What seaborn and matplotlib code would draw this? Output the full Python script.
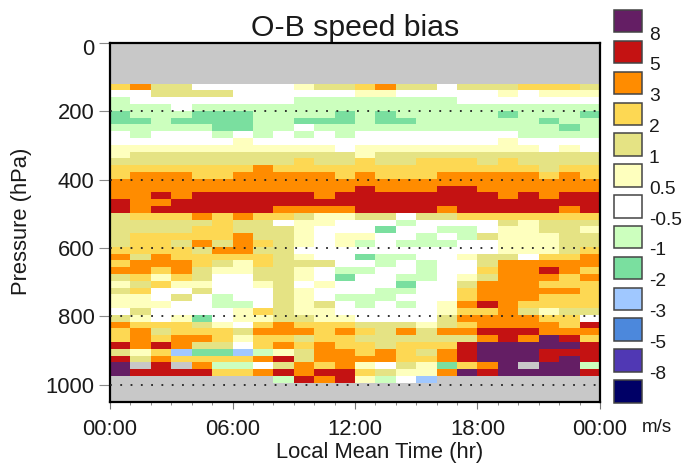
import numpy as np
import matplotlib
matplotlib.use("Agg")
import matplotlib.pyplot as plt
from matplotlib.colors import ListedColormap, BoundaryNorm
from matplotlib.patches import Rectangle
from matplotlib.transforms import ScaledTranslation
import seaborn as sns

sns.set_theme(style="white")
plt.rcParams["font.family"] = ["Liberation Sans", "DejaVu Sans"]
plt.rcParams["text.color"] = "#1a1a1a"
plt.rcParams["axes.labelcolor"] = "#1a1a1a"
plt.rcParams["xtick.labelcolor"] = "#1a1a1a"
plt.rcParams["ytick.labelcolor"] = "#1a1a1a"

na = np.nan

# legend levels, bottom to top
niveis = [-8, -5, -3, -2, -1, -0.5, 0.5, 1, 2, 3, 5, 8]
cores = ["#000066", "#5038B4", "#4C88DC", "#A0C8FF", "#7ADF9F", "#CCFFBE", "#FFFFFF",
         "#FEFFBE", "#E5E384", "#FDD853", "#FF8C00", "#C41212", "#641E64"]

# O-B bias (m/s), one row per pressure layer from 120 hPa down, 24 hourly columns
vies = [
    [2.5, 4, 1.5, 1.5, 0, 0, 0, 0, 0, 0.75, 1.5, 1.5, 2.5, 4, 1.5, 1.5, 0, 1.5, 1.5, 1.5, 2.5, 2.5, 2.5, 1.5],
    [0, 0, 1.5, 1.5, 1.5, 1.5, 0, 0, 0, 0, 0, 0, 0.75, 0.75, 0, 0, 0, 0, 0, 0.75, 0, 0.75, 0.75, 0.75],
    [-.75, 0, 0, 0, 0, 0, 0, 0, 0, -.75, -.75, -.75, -.75, -.75, -.75, -.75, -.75, 0, 0, 0, 0, 0, 0, 0],
    [-.75, -.75, -.75, 0, -.75, -.75, -.75, -.75, -.75, -.75, -.75, -.75, -.75, -.75, -.75, -.75, -.75, -.75, -.75, -.75, -.75, -.75, -.75, -.75],
    [-1.5, -.75, -.75, -.75, -1.5, -1.5, -1.5, -.75, -.75, -.75, -.75, -1.5, -.75, -1.5, -.75, -.75, -.75, -.75, -.75, -1.5, -.75, -.75, -.75, -1.5],
    [-1.5, -1.5, -.75, -1.5, -1.5, -1.5, -1.5, -.75, -.75, -1.5, -1.5, -1.5, -.75, -1.5, -1.5, -.75, -.75, -.75, -.75, -.75, -.75, -1.5, -.75, -.75],
    [-.75, -.75, -.75, -.75, -.75, -1.5, -1.5, -.75, -.75, 0, -.75, -.75, -.75, -.75, -.75, -.75, -.75, -.75, -.75, -.75, -.75, -.75, -1.5, -.75],
    [0, -.75, 0, 0, 0, -.75, 0, -.75, 0, -.75, 0, -.75, 0, 0, 0, 0, 0, 0, 0, 0, -.75, -.75, -.75, -.75],
    [0, 0, 0, 0, 0, 0, 0.75, 0, 0, 0, 0, 0, 0, 0, 0, 0, 0, 0, 0, 0.75, 0, 0, 0, 0],
    [0.75, 0.75, 0.75, 0.75, 0.75, 0.75, 0.75, 0.75, 0.75, 0.75, 0.75, 0, 0.75, 0.75, 0.75, 0.75, 0.75, 0.75, 0.75, 0.75, 0.75, 0, 0.75, 0],
    [0.75, 1.5, 1.5, 1.5, 1.5, 1.5, 1.5, 1.5, 1.5, 1.5, 1.5, 1.5, 0.75, 1.5, 1.5, 1.5, 1.5, 1.5, 1.5, 1.5, 1.5, 1.5, 1.5, 1.5],
    [1.5, 1.5, 1.5, 1.5, 1.5, 1.5, 1.5, 1.5, 1.5, 2.5, 1.5, 1.5, 2.5, 1.5, 1.5, 2.5, 2.5, 2.5, 1.5, 2.5, 1.5, 1.5, 1.5, 1.5],
    [2.5, 2.5, 2.5, 2.5, 2.5, 2.5, 2.5, 4, 2.5, 2.5, 2.5, 2.5, 2.5, 2.5, 2.5, 2.5, 2.5, 2.5, 2.5, 2.5, 2.5, 1.5, 2.5, 2.5],
    [2.5, 4, 4, 4, 2.5, 2.5, 4, 4, 4, 4, 4, 2.5, 4, 2.5, 2.5, 2.5, 4, 4, 4, 4, 4, 2.5, 4, 2.5],
    [4, 4, 4, 4, 4, 4, 4, 4, 4, 4, 4, 4, 4, 4, 4, 4, 4, 4, 4, 4, 4, 4, 4, 4],
    [4, 4, 4, 4, 4, 4, 4, 4, 4, 4, 4, 4, 6, 4, 4, 4, 6, 6, 4, 4, 4, 4, 4, 4],
    [4, 4, 6, 4, 6, 6, 6, 6, 6, 6, 4, 6, 6, 6, 6, 6, 6, 6, 6, 4, 6, 4, 6, 6],
    [6, 4, 4, 6, 6, 6, 6, 6, 6, 6, 6, 6, 6, 6, 6, 6, 6, 6, 6, 6, 6, 6, 6, 6],
    [6, 4, 6, 6, 6, 6, 6, 6, 4, 4, 4, 4, 6, 6, 6, 6, 4, 6, 6, 6, 6, 6, 4, 6],
    [1.5, 2.5, 2.5, 2.5, 4, 2.5, 4, 2.5, 2.5, 1.5, 0.75, 0.75, 1.5, 1.5, 0, 1.5, 1.5, 2.5, 2.5, 2.5, 2.5, 2.5, 2.5, 2.5],
    [1.5, 1.5, 1.5, 1.5, 1.5, 2.5, 1.5, 1.5, 0, 0.75, 0.75, 0, 0, 0, -.75, 0, 0, 0, 0, 1.5, 0.75, 1.5, 1.5, 1.5],
    [1.5, 1.5, 1.5, 1.5, 2.5, 2.5, 1.5, 1.5, 1.5, 0.75, 0, 0, 0, -1.5, 0, 0, -.75, -.75, 0, 0.75, 0.75, 1.5, 1.5, 0.75],
    [1.5, 2.5, 2.5, 2.5, 2.5, 2.5, 4, 1.5, 1.5, 0.75, 0, 0.75, 0.75, 0, 0, -.75, 0, -.75, 1.5, 0.75, 0.75, 0.75, 1.5, 1.5],
    [1.5, 2.5, 2.5, 1.5, 4, 1.5, 4, 2.5, 1.5, 0.75, 0, 0.75, -.75, 0, -.75, -.75, -.75, 0, 0, 0.75, 0.75, 0.75, 1.5, 1.5],
    [2.5, 2.5, 2.5, 2.5, 1.5, 4, 4, 1.5, 1.5, 0, 0, 0, 0, 0, 0, 0, 0, 0, 0, 0.75, 0.75, 0.75, 1.5, 2.5],
    [4, 1.5, 4, 2.5, 2.5, 2.5, 2.5, 2.5, 1.5, 0.75, 0, 0, -1.5, -.75, -.75, 0, 0, 0.75, 1.5, 1.5, 0, 2.5, 2.5, 4],
    [2.5, 4, 4, 4, 2.5, 1.5, 0.75, 2.5, 1.5, 1.5, 1.5, 0, 0, -.75, 0, -.75, 0, 0, 1.5, 4, 4, 4, 4, 4],
    [4, 4, 2.5, 4, 1.5, 0.75, 0.75, 1.5, 1.5, 0.75, 0, -.75, -.75, 0, 0, -.75, 0, 0, 2.5, 4, 4, 6, 4, 2.5],
    [1.5, 2.5, 0.75, 2.5, 1.5, 0, 0, 1.5, 1.5, 0.75, 0, -1.5, 0, 0, -.75, -.75, 0, 0.75, 1.5, 4, 4, 4, 2.5, 4],
    [0.75, 1.5, 2.5, 0.75, 0.75, 0, 0, 0.75, 1.5, 0, 0.75, 0, 0, 0, -1.5, 0, 0, 1.5, 4, 4, 4, 2.5, 2.5, 2.5],
    [1.5, 2.5, 0, 0, 1.5, 0, 0, 0, 1.5, 0.75, 0, 0, 0, -.75, -.75, 0, 0, 2.5, 4, 4, 4, 4, 4, 2.5],
    [0.75, 0.75, 0, 1.5, 0, -.75, 0, 0, 1.5, 0.75, 0, -.75, -.75, -.75, 0, 0, 0, 2.5, 4, 4, 4, 2.5, 2.5, 2.5],
    [0.75, 0.75, 0.75, 0, 0, -.75, -.75, 0, 1.5, 0.75, 1.5, 0, -.75, 0, -.75, 0, 0.75, 4, 6, 4, 2.5, 2.5, 2.5, 2.5],
    [0, 1.5, 0, 0, 0, 0, 0.75, 2.5, 1.5, 0.75, 0.75, 0, 0, 0, 0, 0, 0.75, 2.5, 2.5, 4, 1.5, 0.75, 1.5, 1.5],
    [1.5, 0.75, 0, 0.75, -1.5, 0, 0.75, 0.75, 1.5, 1.5, 0.75, 0.75, 0, 0, 0, 0, 1.5, 4, 4, 4, 4, 2.5, 2.5, 0],
    [4, 2.5, 2.5, 2.5, 1.5, 0.75, 0, 2.5, 4, 2.5, 2.5, 2.5, 1.5, 1.5, 1.5, 0.75, 1.5, 2.5, 4, 4, 4, 4, 2.5, 6],
    [2.5, 4, 1.5, 2.5, 2.5, 2.5, 1.5, 4, 4, 4, 2.5, 4, 2.5, 1.5, 4, 1.5, 4, 4, 6, 6, 6, 4, 4, 4],
    [2.5, 4, 2.5, 4, 4, 2.5, 0.75, 2.5, 2.5, 1.5, 2.5, 2.5, 1.5, 1.5, 1.5, 1.5, 1.5, 1.5, 4, 6, 4, 9, 6, 2.5],
    [6, 4, 6, 4, 1.5, 1.5, 0, 2.5, 4, 2.5, 4, 2.5, 2.5, 1.5, 2.5, 2.5, 2.5, 6, 9, 9, 9, 9, 9, 6],
    [1.5, 0.75, 2.5, -2.5, -1.5, -1.5, -2.5, -.75, 0.75, 1.5, 4, 4, 2.5, 4, 2.5, 1.5, 4, 6, 9, 9, 9, 6, 6, 6],
    [6, 1.5, 4, 2.5, 2.5, 2.5, 2.5, 4, 6, 1.5, 4, 4, 4, 4, 2.5, 2.5, 4, 6, 9, 9, 9, 6, 9, 6],
    [9, na, 6, na, 4, -.75, -.75, 0, 1.5, 4, 2.5, 4, 0.75, 0, 1.5, 0.75, -1.5, 2.5, 4, 9, na, 9, 9, -.75],
    [9, 6, 6, 6, 6, 2.5, 2.5, 4, 6, 4, 6, 6, 2.5, 1.5, 0.75, 0.75, 4, 9, 6, 9, 9, 9, 9, 6],
    [na, na, na, na, na, na, na, na, -.75, 6, 4, 6, 0.75, -.75, 0, -2.5, na, na, na, na, na, na, na, na],
]

marcas_y = [0, 200, 400, 600, 800, 1000]
marcas_x = ["00:00", "06:00", "12:00", "18:00", "00:00"]
rotulos_legenda = ["-8", "-5", "-3", "-2", "-1", "-0.5", "0.5", "1", "2", "3", "5", "8"]

# pixels of the reference
L, H = 683, 465
P0, DP = 119.0, 19.91  # hPa at top of first row, hPa per row

def linha(p):
    return (p - P0) / DP

fig = plt.figure(figsize=(L / 100, H / 100), dpi=100)
ax = fig.add_axes([110 / L, 1 - 402 / H, 490 / L, 359 / H])
ax.set_facecolor("#C8C8C8")

cmap = ListedColormap(cores)
norm = BoundaryNorm([-100] + niveis + [100], cmap.N)
sns.heatmap(np.array(vies), cmap=cmap, norm=norm, cbar=False, ax=ax,
            xticklabels=False, yticklabels=False)

ax.set_ylim(linha(1051), linha(0))
ax.set_xlim(0, 24)

for p in marcas_y[1:]:
    ax.axhline(linha(p), color="#222222", lw=1.3, ls=(0, (1, 4.7)), zorder=5)

for s in ax.spines.values():
    s.set_visible(True)
    s.set_color("black")
    s.set_linewidth(1.6)

ax.set_xticks([0, 6, 12, 18, 24])
ax.set_xticklabels(marcas_x, fontsize=15.8)
ax.set_xticks(range(25), minor=True)
ax.set_yticks([linha(p) for p in marcas_y])
ax.set_yticklabels(marcas_y, fontsize=15.8)
ax.tick_params(axis="x", which="major", bottom=True, length=5, width=0.8, color="#777777", pad=7)
ax.tick_params(axis="x", which="minor", bottom=True, length=2.5, width=0.6, color="#777777")
ax.tick_params(axis="y", which="major", left=True, length=8, width=0.8, color="#888888", pad=3)
# the 0 label sits a little below its tick
zero = ax.yaxis.get_majorticklabels()[0]
zero.set_transform(zero.get_transform() + ScaledTranslation(0, -4 / 100, fig.dpi_scale_trans))

ax.set_title("O-B speed bias", fontsize=21.8, pad=5)
ax.set_xlabel("Local Mean Time (hr)", fontsize=15.8)
ax.xaxis.set_label_coords(379.5 / L, 1 - 452.5 / H, transform=fig.transFigure)
ax.xaxis.label.set_verticalalignment("center")
ax.set_ylabel("Pressure (hPa)", fontsize=15.8)
ax.yaxis.set_label_coords(22 / L, 1 - 221 / H, transform=fig.transFigure)
ax.yaxis.label.set_verticalalignment("center")

# legend squares, top colour first
topo = 10
for i, cor in enumerate(cores[::-1]):
    y = topo + i * 30.85
    fig.patches.append(Rectangle((614 / L, 1 - (y + 22.5) / H), 28 / L, 22.5 / H,
                                 facecolor=cor, edgecolor="#444444", lw=1.1,
                                 transform=fig.transFigure))
for i, r in enumerate(rotulos_legenda[::-1]):
    fig.text(649 / L, 1 - (35 + i * 30.85) / H, r, fontsize=13.8, va="center", ha="left")
fig.text(642 / L, 1 - 427 / H, "m/s", fontsize=13.5, va="center", ha="left")

fig.savefig("out.png", dpi=100)
